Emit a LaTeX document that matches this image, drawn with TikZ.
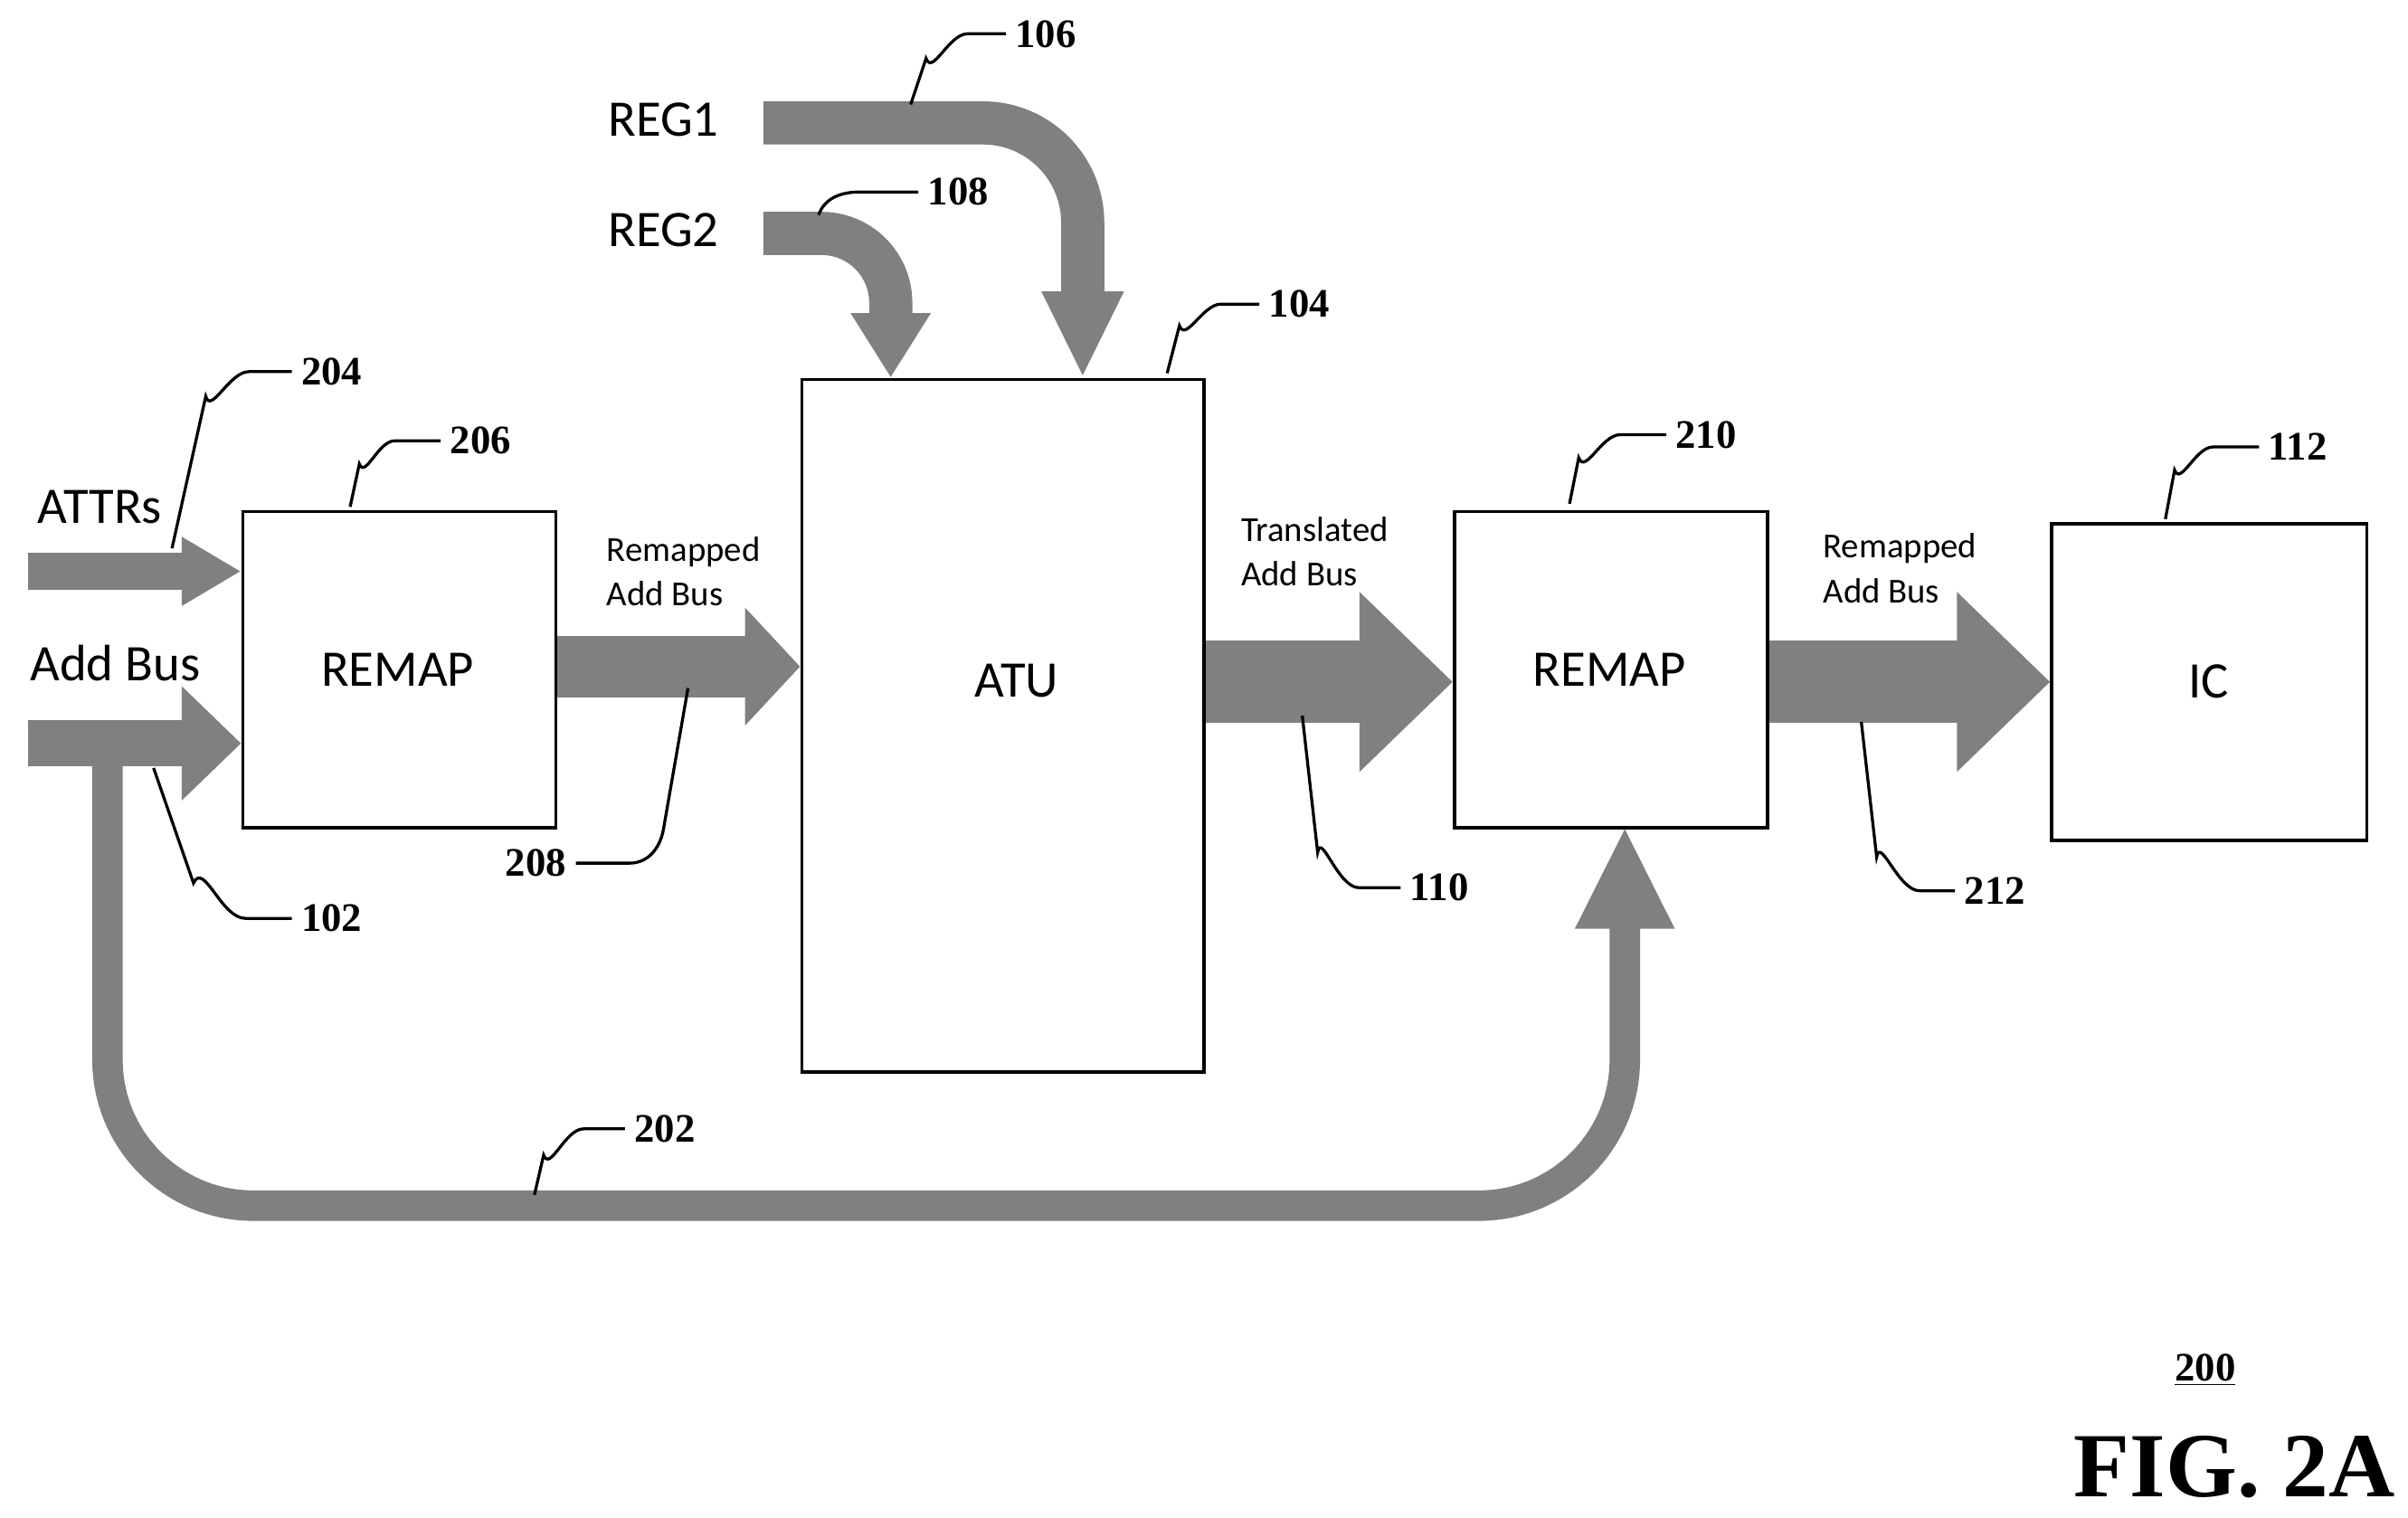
\documentclass[tikz,border=0pt]{standalone}
\usepackage{fontspec}
\setmainfont{Liberation Serif}
\newfontfamily\calib{Carlito}
\usetikzlibrary{arrows.meta}

\tikzset{
  blk/.style={draw, line width=1.2pt, fill=white},
  bus/.style={draw=gray!95!black, line width=#1},
  lbl/.style={font=\calib\fontsize{19}{21}\selectfont},
  sml/.style={font=\calib\fontsize{13}{16.5}\selectfont, align=left, anchor=west},
  num/.style={font=\bfseries\fontsize{15}{17}\selectfont, anchor=west},
  lead/.style={line width=1.1pt}
}

\begin{document}
\begin{tikzpicture}[x=0.02cm, y=-0.02cm]
  \useasboundingbox (0,0) rectangle (1568,988);

  % buses
  \draw[bus=11.3pt, rounded corners=1.9cm, -{Triangle[width=34pt,length=38pt]}, color=gray]
    (70,495) |- (1058,785) -- (1058,538);
  \draw[bus=13.6pt, color=gray, -{Triangle[width=24pt,length=22pt]}] (18,372) -- (157,372);
  \draw[bus=17pt, color=gray, -{Triangle[width=41pt,length=22pt]}] (18,484) -- (157,484);
  \draw[bus=16pt, color=gray, rounded corners=1.3cm, -{Triangle[width=28pt,length=32pt]}]
    (497,80) -| (705,246);
  \draw[bus=16pt, color=gray, rounded corners=0.9cm, -{Triangle[width=28pt,length=24pt]}]
    (497,152) -| (580,246);

  % blocks
  \node[blk, minimum width=204*0.02cm, minimum height=206*0.02cm, anchor=north west] (remapa) at (157,332) {};
  \node[blk, minimum width=262*0.02cm, minimum height=451*0.02cm, anchor=north west] (atu) at (521,246) {};
  \node[blk, minimum width=204*0.02cm, minimum height=206*0.02cm, anchor=north west] (remapb) at (946,332) {};
  \node[blk, minimum width=205*0.02cm, minimum height=206*0.02cm, anchor=north west] (ic) at (1335,340) {};

  \draw[bus=22.7pt, color=gray, -{Triangle[width=42.5pt,length=20.4pt]}] (remapa.east |- 0,434) -- (atu.west |- 0,434);
  \draw[bus=30.6pt, color=gray, -{Triangle[width=64.6pt,length=34.6pt]}] (atu.east |- 0,444) -- (remapb.west |- 0,444);
  \draw[bus=30.6pt, color=gray, -{Triangle[width=64.6pt,length=34.6pt]}] (remapb.east |- 0,444) -- (ic.west |- 0,444);

  % texts
  \node[lbl] (tremapa) at (259,436) {REMAP};
  \node[lbl] (tatu) at (662,443) {ATU};
  \node[lbl] (tremapb) at (1048,436) {REMAP};
  \node[lbl] (tic) at (1438,444) {IC};
  \node[lbl] (treg1) at (432,78) {REG1};
  \node[lbl] (treg2) at (432,150) {REG2};
  \node[lbl] (tattr) at (65,330) {ATTRs};
  \node[lbl] (tadd) at (75,432) {Add Bus};
  \node[sml] (tbus1) at (389,372) {Remapped\\Add Bus};
  \node[sml] (tbus2) at (802,359) {Translated\\Add Bus};
  \node[sml] (tbus3) at (1181,370) {Remapped\\Add Bus};

  % reference numerals
  \node[num] (n106) at (655,22) {106};
  \node[num] (n108) at (598,125) {108};
  \node[num] (n104) at (820,198) {104};
  \node[num] (n204) at (190,242) {204};
  \node[num] (n206) at (287,287) {206};
  \node[num] (n210) at (1085,283) {210};
  \node[num] (n112) at (1471,291) {112};
  \node[num] (n102) at (190,598) {102};
  \node[num] (n208) at (323,562) {208};
  \node[num] (n110) at (912,578) {110};
  \node[num] (n212) at (1273,580) {212};
  \node[num] (n202) at (407,735) {202};
  \node[font=\bfseries\fontsize{15}{17}\selectfont] (n200) at (1436,892) {\underline{200}};
  \node[font=\bfseries\fontsize{34}{38}\selectfont] (fig) at (1455,955) {FIG. 2A};

  % leaders
  \draw[lead] (593,68) -- (603,38) to[out=-70,in=180] (630,22) -- (n106.west);
  \draw[lead] (533,140) to[out=70,in=180] (560,125) -- (n108.west);
  \draw[lead] (760,243) -- (768,212) to[out=-70,in=180] (795,198) -- (n104.west);
  \draw[lead] (112,357) -- (134,258) to[out=-75,in=180] (162,242) -- (n204.west);
  \draw[lead] (228,330) -- (234,302) to[out=-70,in=180] (257,287) -- (n206.west);
  \draw[lead] (1022,328) -- (1028,298) to[out=-70,in=180] (1055,283) -- (n210.west);
  \draw[lead] (1410,338) -- (1416,306) to[out=-70,in=180] (1441,291) -- (n112.west);
  \draw[lead] (100,500) -- (126,575) to[out=65,in=180] (160,598) -- (n102.west);
  \draw[lead] (448,448) -- (432,540) to[out=-100,in=0] (410,562) -- (n208.east);
  \draw[lead] (848,466) -- (858,555) to[out=80,in=180] (885,578) -- (n110.west);
  \draw[lead] (1212,470) -- (1222,558) to[out=80,in=180] (1250,580) -- (n212.west);
  \draw[lead] (348,778) -- (354,752) to[out=-70,in=180] (380,735) -- (n202.west);
\end{tikzpicture}
\end{document}
